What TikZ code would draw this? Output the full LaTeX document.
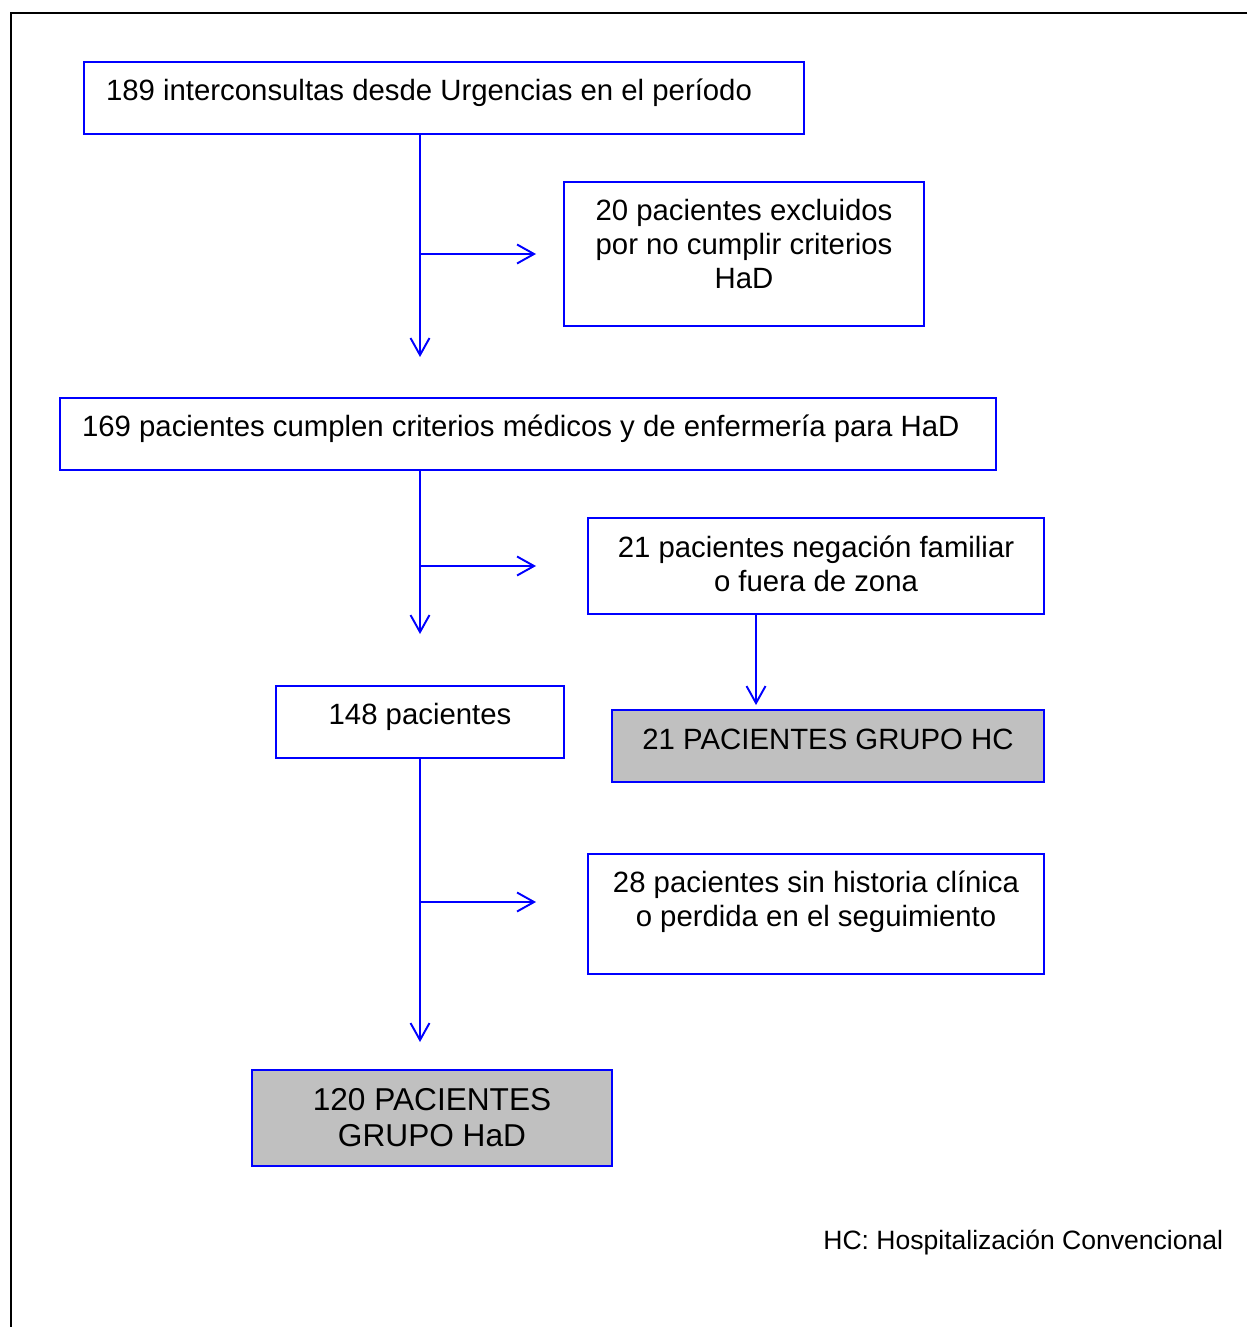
\documentclass[tikz,border=0pt]{standalone}
\usepackage{fontspec}
\setmainfont{Liberation Sans}
\usetikzlibrary{arrows.meta}
\definecolor{flowblue}{RGB}{0,0,255}
\definecolor{groupgray}{RGB}{192,192,192}
\newcommand{\boxtext}[4]{\parbox[c][#1][c]{#2}{#4\par\vspace{#3}}}

\begin{document}
\begin{tikzpicture}[x=0.02cm,y=-0.02cm,line width=1.1pt,
  box/.style={draw=flowblue,line width=1.1pt,inner sep=0pt,
    font=\fontsize{16.7}{19.4}\selectfont},
  grp/.style={box,fill=groupgray},
  flow/.style={draw=flowblue,-{Straight Barb[length=0.34cm,width=0.38cm]}}]
  \useasboundingbox (0,0) rectangle (1247,1327);
  \draw[line width=0.05cm] (1247,13) -- (11,13) -- (11,1327);

  % boxes
  \node[box] (start) at (444,98)
    {\boxtext{1.44cm}{14.4cm}{0.2cm}{\hspace*{0.44cm}189 interconsultas desde Urgencias en el período\hfill}};
  \node[box] (excl) at (744,254)
    {\boxtext{2.88cm}{7.2cm}{0.4cm}{\centering 20 pacientes excluidos\\ por no cumplir criterios\\ HaD}};
  \node[box] (crit) at (528,434)
    {\boxtext{1.44cm}{18.72cm}{0.2cm}{\hspace*{0.44cm}169 pacientes cumplen criterios médicos y de enfermería para HaD\hfill}};
  \node[box] (neg) at (816,566)
    {\boxtext{1.92cm}{9.12cm}{0.1cm}{\centering 21 pacientes negación familiar\\ o fuera de zona}};
  \node[box] (p148) at (420,722)
    {\boxtext{1.44cm}{5.76cm}{0.2cm}{\centering 148 pacientes}};
  \node[grp] (hc) at (828,746)
    {\boxtext{1.44cm}{8.64cm}{0.28cm}{\centering 21 PACIENTES GRUPO HC}};
  \node[box] (lost) at (816,914)
    {\boxtext{2.4cm}{9.12cm}{0.48cm}{\centering 28 pacientes sin historia clínica\\ o perdida en el seguimiento}};
  \node[grp,font=\fontsize{18}{20.5}\selectfont] (had) at (432,1118)
    {\boxtext{1.92cm}{7.2cm}{0cm}{\centering 120 PACIENTES\\ GRUPO HaD}};
  \node[inner sep=0pt,anchor=base east,font=\fontsize{15.1}{18}\selectfont] (key) at (1224,1249)
    {HC: Hospitalización Convencional};

  % arrow ends
  \coordinate (j1) at (420,254);
  \coordinate (e1) at (536,254);
  \coordinate (t1) at (420,357);
  \coordinate (j2) at (420,566);
  \coordinate (e2) at (536,566);
  \coordinate (t2) at (420,634);
  \coordinate (j3) at (420,902);
  \coordinate (e3) at (536,902);
  \coordinate (t3) at (420,1042);

  % connectors
  \draw[flow] ([xshift=-0.48cm]start.south) -- (t1);
  \draw[flow] (j1) -- (e1);
  \draw[flow] ([xshift=-2.16cm]crit.south) -- (t2);
  \draw[flow] (j2) -- (e2);
  \draw[flow] ([xshift=-1.2cm]neg.south) -- ([xshift=-1.44cm,yshift=0.08cm]hc.north);
  \draw[flow] (p148.south) -- (t3);
  \draw[flow] (j3) -- (e3);
\end{tikzpicture}
\end{document}
